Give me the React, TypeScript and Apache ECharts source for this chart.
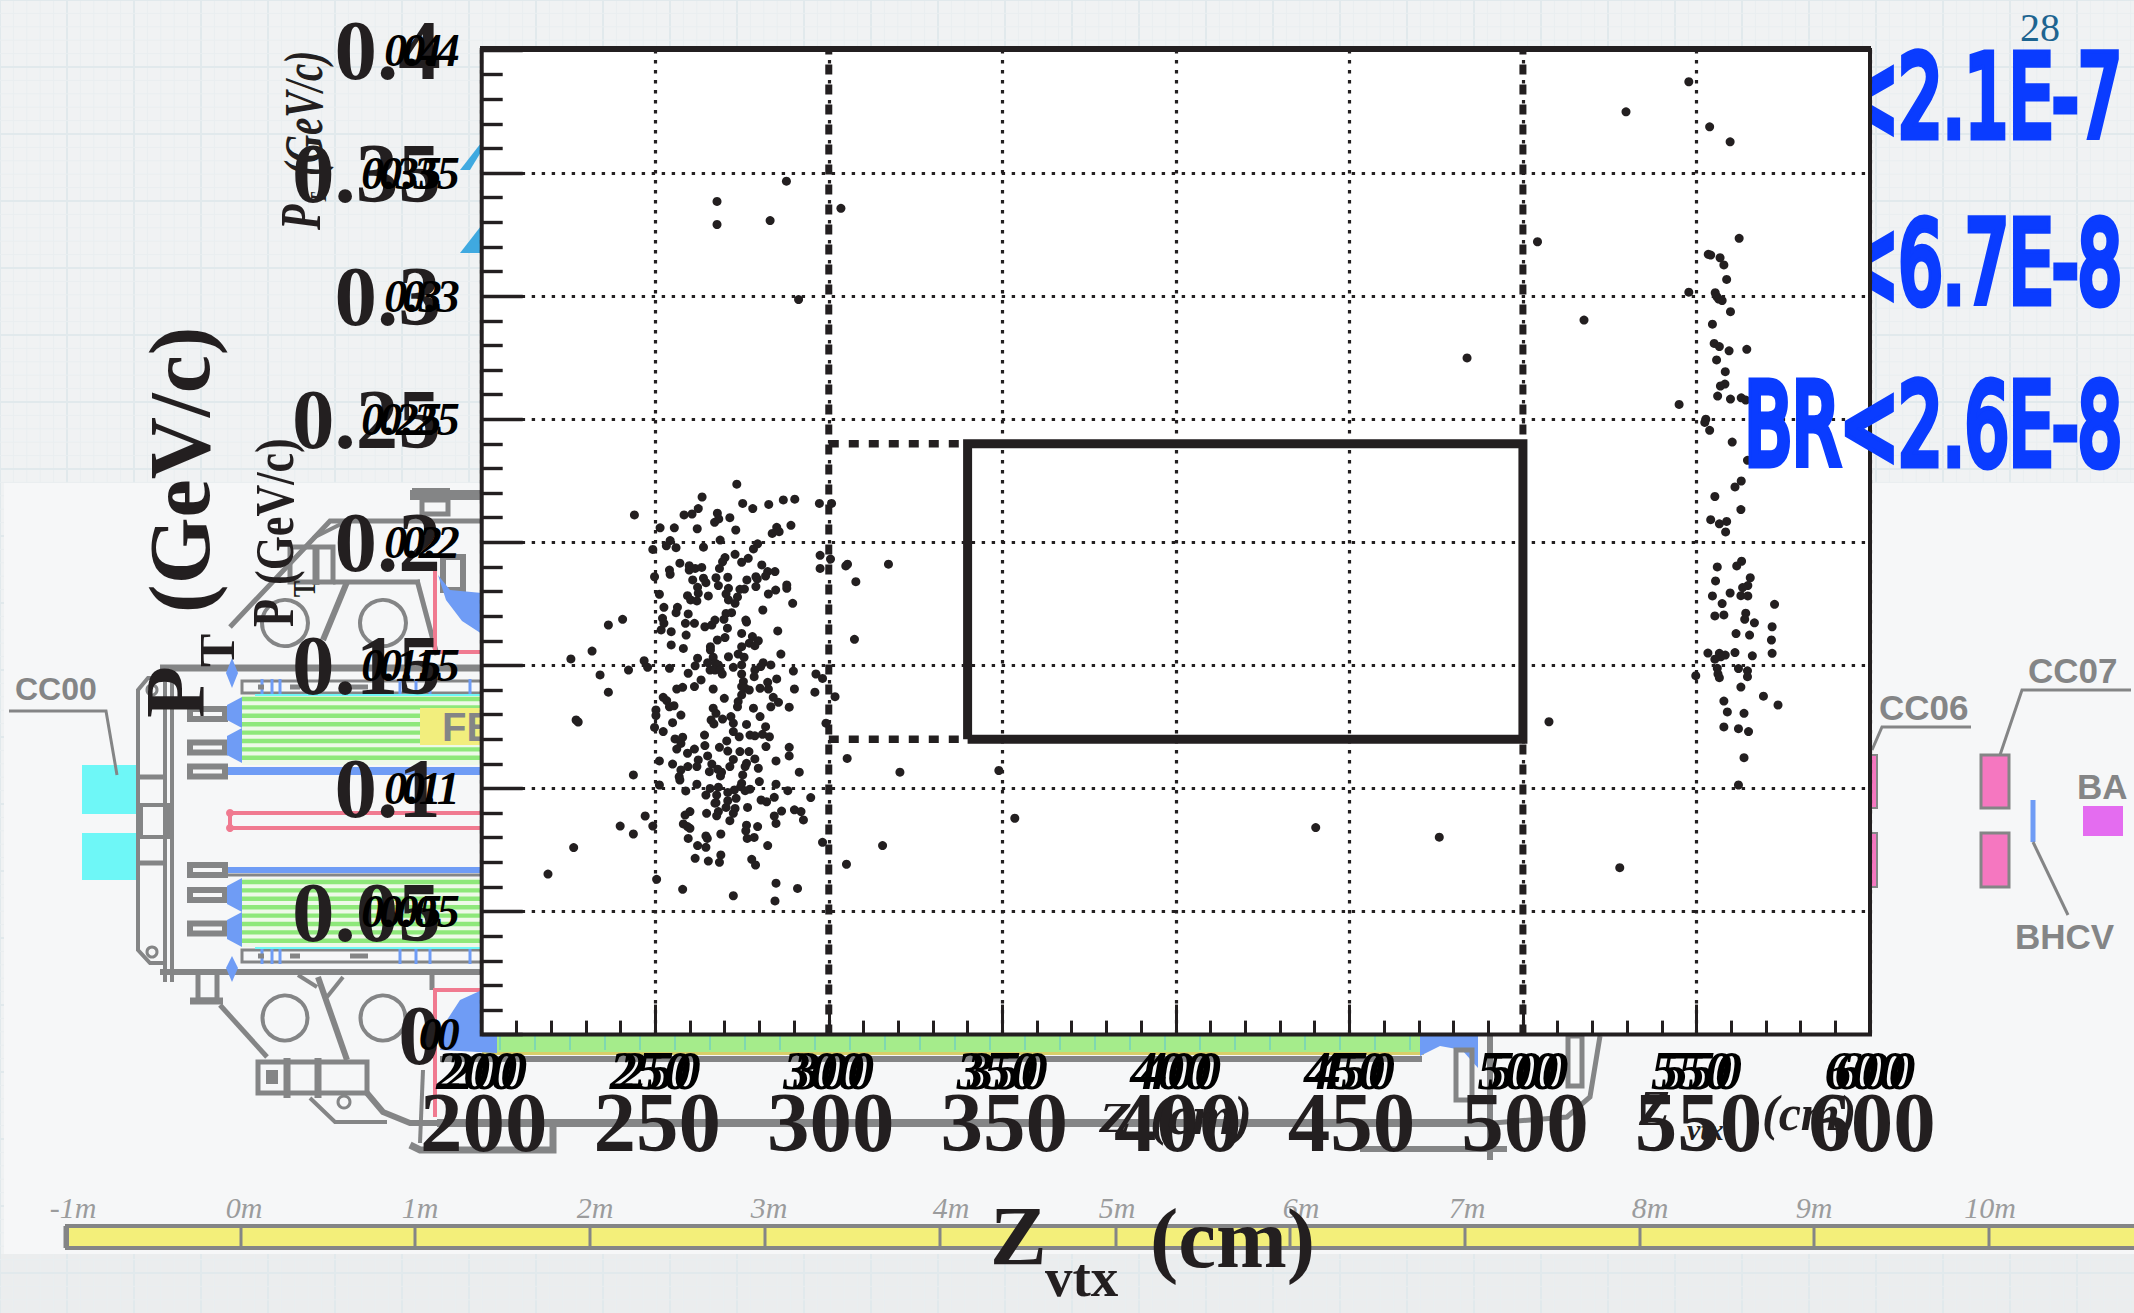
import React, { useEffect, useRef } from "react";
import * as echarts from "echarts";

// ---------- data (Zvtx in cm, PT in GeV/c) ----------
const zTicksMin = 200, zTicksMax = 600, zStep = 50;
const ptMin = 0, ptMax = 0.4, ptStep = 0.05;

const cutLineLeft = [[300, 0], [300, 0.4]];
const cutLineRight = [[500, 0], [500, 0.4]];
const signalBox = [[340, 0.12], [500, 0.12], [500, 0.24], [340, 0.24], [340, 0.12]];
const dashedUpper = [[300, 0.24], [340, 0.24]];
const dashedLower = [[300, 0.12], [340, 0.12]];

const isolatedPoints = [
  [267.8,.3385],[267.8,.3291],[283.1,.3307],[287.8,.3467],[303.5,.3357],[291.3,.2986],
  [349,.1073],[353.6,.0879],[440.3,.0841],[475.9,.0802],[483.9,.2749],[504.2,.3221],[517.6,.2903],
  [529.7,.3749],[507.5,.1271],[527.9,.0678],[547.8,.3871],[545,.2560],[547.8,.3016],
  [225.7,.1526],[231.8,.1558],[227.2,.1278],[227.8,.1270],[226.5,.0760],[219.1,.0652],
];
const rightBandPoints = [
  [553.8,.3688],[559.7,.3627],[562.3,.3235],[553.4,.3170],[554.1,.3167],[556.8,.3156],[557.9,.3127],[558.7,.3068],
  [555.4,.3014],[555.9,.2998],[556.4,.2988],[557.4,.2982],[559.8,.2937],[554.6,.2886],[555.1,.2808],[556.6,.2795],
  [559.4,.2778],[564.5,.2784],[555.8,.2741],[558.3,.2693],[558.2,.2643],[556.9,.2635],[556.1,.2594],[559.8,.2582],
  [562.9,.2587],[564.2,.2578],[552.7,.2500],[552.4,.2487],[553.8,.2455],[560.3,.2407],[564.7,.2333],[562.9,.2249],
  [561.1,.2225],[555.3,.2186],[562.8,.2133],[554.1,.2092],[556.6,.2075],[558.7,.2085],[558.4,.2042],[563,.1923],
  [561.6,.1904],[556,.1900],[555.5,.1843],[565.5,.1856],[564.8,.1824],[563.3,.1816],[559.7,.1794],[554.6,.1782],
  [562.8,.1783],[564.8,.1782],[557.4,.1751],[572.5,.1748],[564.2,.1712],[555.3,.1701],[557.9,.1705],[563.9,.1687],
  [566.7,.1673],[571.8,.1657],[561.4,.1629],[565.3,.1623],[571.6,.1603],[553.3,.1550],[556.6,.1549],[558.3,.1542],
  [557,.1535],[555.3,.1525],[561.1,.1552],[571.8,.1549],[566.1,.1539],[556,.1488],[562.1,.1487],[564.7,.1478],
  [556.2,.1465],[549.8,.1458],[556.6,.1450],[564.7,.1454],[562.8,.1412],[569.3,.1375],[573.5,.1339],[557.9,.1355],
  [558.9,.1311],[563.7,.1305],[557.9,.1250],[562.1,.1243],[565,.1231],[563.7,.1125],[562.1,.1014],
];
const leftUpperPoints = [
  [273.5,.2236],[263.5,.2184],[275.2,.2158],[278.1,.2137],[282.7,.2154],[286.9,.2172],[290.2,.2175],[297.3,.2158],[300.8,.2158],
  [244.0,.2111],[258.3,.2111],[260.6,.2115],[262.4,.2137],[267.9,.2118],[271.5,.2100],[267.1,.2081],[268.3,.2095],
  [251.4,.2059],[255.5,.2059],[262.1,.2055],[273.2,.2050],[285.0,.2061],[283.7,.2036],[285.7,.2043],[289.1,.2069],
  [254.3,.2007],[253.2,.1986],[256.0,.1978],[268.7,.2009],[263.9,.1980],[279.5,.1994],[278.3,.1973],[249.3,.1971],
  [273.0,.1951],[297.5,.1947],[300.5,.1932],[270.1,.1938],[269.4,.1921],[276.8,.1935],[274.9,.1919],[257.1,.1915],
  [280.7,.1908],[259.8,.1905],[259.8,.1887],[261.5,.1894],[263.4,.1898],[268.5,.1894],[304.9,.1904],[305.4,.1911],[317.2,.1911],[297.5,.1894],
  [254.1,.1887],[254.3,.1870],[249.8,.1860],[284.5,.1881],[282.4,.1881],[281.8,.1863],[279.0,.1860],[279.4,.1851],[267.5,.1856],[270.9,.1858],
  [260.8,.1847],[263.9,.1854],[264.6,.1836],[276.4,.1847],[307.8,.1840],
  [268.2,.1824],[262.2,.1817],[271.1,.1813],[279.0,.1820],[287.9,.1827],[287.9,.1813],[274.4,.1809],[275.7,.1810],[284.7,.1806],[282.6,.1790],
  [262.4,.1793],[251.2,.1789],[259.3,.1783],[260.2,.1766],[262.0,.1762],[265.3,.1782],[270.4,.1790],[271.1,.1766],[273.7,.1778],[273.0,.1752],[289.6,.1752],
  [252.5,.1736],[256.4,.1736],[256.0,.1714],[281.0,.1725],[259.5,.1709],[270.4,.1711],[272.0,.1714],[269.8,.1687],[252.1,.1691],[252.5,.1671],
  [258.7,.1671],[261.3,.1671],[264.3,.1657],[266.3,.1664],[267.2,.1684],[276.1,.1684],[276.3,.1676],[270.8,.1651],[251.7,.1644],[254.6,.1637],
  [285.3,.1640],[258.9,.1623],[274.9,.1630],[240.6,.1687],[236.5,.1664],
];
const leftMiddlePoints = [
  [278.0,.1617],[267.9,.1603],[270.1,.1613],[279.7,.1600],[277.1,.1590],[278.7,.1580],[274.9,.1576],[254.6,.1583],[258.1,.1569],[265.9,.1576],
  [265.9,.1562],[286.2,.1546],[273.9,.1546],[271.1,.1535],[275.6,.1533],[262.2,.1529],[266.7,.1533],[307.4,.1606],
  [246.8,.1519],[247.8,.1492],[242.3,.1481],[254.1,.1488],[261.5,.1498],[265.1,.1511],[267.4,.1508],[268.2,.1502],[265.8,.1481],[267.2,.1481],
  [268.7,.1481],[269.3,.1465],[272.5,.1492],[274.9,.1502],[274.9,.1465],[281.1,.1511],[280.4,.1495],[283.3,.1502],[278.7,.1481],[278.5,.1454],
  [259.5,.1468],[289.8,.1477],[296.3,.1465],[298.2,.1447],[234.1,.1461],
  [263.2,.1441],[275.4,.1434],[282.4,.1431],[285.0,.1445],[261.3,.1414],[257.9,.1411],[256.2,.1404],[266.7,.1404],[274.9,.1414],[275.9,.1407],
  [277.1,.1400],[280.2,.1407],[282.6,.1404],[290.1,.1404],[296.0,.1391],[236.5,.1391],[301.8,.1373],[274.9,.1380],[269.9,.1366],[252.3,.1370],
  [253.3,.1357],[273.9,.1353],[273.7,.1332],[284.0,.1370],[285.5,.1350],[283.3,.1332],[288.6,.1330],[254.1,.1332],[255.4,.1336],[250.2,.1319],
  [266.7,.1326],[267.5,.1305],[278.3,.1326],
  [250.2,.1296],[257.4,.1298],[271.8,.1292],[280.2,.1292],[266.1,.1278],[266.9,.1262],[269.4,.1282],[272.5,.1265],[255.0,.1267],[276.3,.1260],
  [249.8,.1248],[252.3,.1231],[281.8,.1251],[299.2,.1265],[272.5,.1231],[274.2,.1210],[264.2,.1217],[277.3,.1217],[278.7,.1214],[280.9,.1220],
  [282.9,.1210],[255.7,.1201],[257.9,.1208],[257.4,.1183],[270.6,.1193],[256.2,.1160],[264.3,.1174],[268.5,.1167],[261.3,.1160],[281.9,.1170],[288.6,.1167],
];
const leftLowerPoints = [
  [259.3,.1143],[270.9,.1152],[274.4,.1150],[277.0,.1150],[265.1,.1132],[288.6,.1132],[305.3,.1122],[272.5,.1118],[262.4,.1116],[251.2,.1112],
  [255.0,.1099],[284.8,.1112],[278.7,.1120],[276.3,.1102],[266.3,.1099],[259.4,.1089],[262.0,.1089],[271.5,.1089],[275.9,.1089],[279.7,.1082],
  [257.4,.1075],[268.0,.1078],[265.6,.1068],[291.5,.1066],[269.1,.1066],[268.8,.1051],[243.7,.1055],[275.2,.1055],[256.9,.1048],[257.1,.1034],[320.5,.1066],
  [280.0,.1028],[262.0,.1017],[251.2,.1014],[274.9,.1021],[284.8,.1017],[274.6,.1007],[265.8,.1000],[268.2,.1005],[258.8,.0990],[277.3,.0997],
  [288.2,.0991],[272.8,.0994],[270.9,.0984],[275.9,.0991],[264.6,.0973],[267.7,.0973],[294.8,.0963],[284.3,.0964],[273.3,.0960],[267.5,.0942],
  [270.9,.0950],[280.5,.0953],[282.1,.0946],[267.2,.0940],[270.4,.0923],[276.6,.0923],[260.0,.0906],[264.8,.0899],[268.2,.0906],[273.0,.0919],
  [272.5,.0899],[290.1,.0913],[292.0,.0906],[286.4,.0908],[258.6,.0892],[267.7,.0889],[247.1,.0888],[284.3,.0888],[292.7,.0872],[271.5,.0869],
  [239.9,.0847],[249.3,.0847],[258.1,.0856],[259.3,.0845],[260.0,.0838],[276.3,.0851],[279.5,.0845],[284.8,.0858],[276.1,.0828],[243.7,.0815],
  [268.9,.0815],[264.6,.0807],[265.0,.0797],[259.5,.0797],[276.5,.0797],[278.5,.0801],[298.2,.0781],[262.2,.0768],[264.6,.0761],[282.4,.0768],[315.5,.0768],
  [261.5,.0716],[268.9,.0730],[265.3,.0705],[268.5,.0700],[277.8,.0712],[278.9,.0689],[305.1,.0692],[250.4,.0631],[284.8,.0615],[257.9,.0590],
  [291.0,.0594],[272.5,.0564],[284.5,.0543],
];
const rulerLabels = ["-1m","0m","1m","2m","3m","4m","5m","6m","7m","8m","9m","10m"];
const rulerLabelCenters = [73,244,420,595,769,951,1117,1301,1467,1650,1814,1990];
const rulerDividers = [65,241,415,590,765,940,1116,1290,1465,1640,1814,1989];

// ---------- styles ----------
const INK = "#231f20";
const SERIF = '"Liberation Serif"';
const GRAY = "#848586";
const BLUE = "#6f9cf5";
const PINK = "#f07a90";
const CYAN = "#6ef7f7";
const HAND = "#0a3cff";

const B = -1, F = 50;
const rect = (x, y, w, h, fill, stroke?, lw?, z = B) => ({ type: "rect", z, silent: true, shape: { x, y, width: w, height: h }, style: { fill, stroke: stroke || "none", lineWidth: lw || 0 } });
const line = (pts, stroke = GRAY, lw = 4, z = B) => ({ type: "polyline", z, silent: true, shape: { points: pts }, style: { stroke, lineWidth: lw, fill: "none" } });
const poly = (pts, fill, z = B) => ({ type: "polygon", z, silent: true, shape: { points: pts }, style: { fill } });
const circ = (cx, cy, r, stroke = GRAY, lw = 4, z = B) => ({ type: "circle", z, silent: true, shape: { cx, cy, r }, style: { stroke, lineWidth: lw, fill: "none" } });
const txt = (text, x, y, font, fill, opts: any = {}) => ({
  type: "text", z: opts.z ?? F, silent: true, x, y, rotation: opts.rot || 0, scaleX: opts.sx || 1, scaleY: opts.sy || 1,
  style: { text, font, fill, align: opts.align || "left", verticalAlign: opts.va || "middle", stroke: opts.stroke, lineWidth: opts.lw, lineJoin: "round", lineCap: "round" },
});

function paperBackground() {
  const out: any[] = [rect(0, 0, 2134, 1313, "#f0f2f3"), rect(0, 1254, 2134, 59, "#ebedee")];
  for (let x = 0; x < 2134; x += 13.4) {
    const major = Math.round(x / 13.4) % 5 === 0;
    out.push(line([[x, 0], [x, 1313]], major ? "#e1e9ec" : "#e9eef0", major ? 2 : 1));
  }
  for (let y = 0; y < 1313; y += 13.4) {
    const major = Math.round(y / 13.4) % 5 === 0;
    out.push(line([[0, y], [2134, y]], major ? "#e1e9ec" : "#e9eef0", major ? 2 : 1));
  }
  return out;
}

function greenStripes(y0, y1) {
  const out: any[] = [rect(242, y0, 240, y1 - y0, "#eef9e8")];
  for (let y = y0 + 4; y < y1; y += 8.4) out.push(line([[242, y], [482, y]], "#8ee87a", 4.4));
  return out;
}

function rail(y) {
  const out: any[] = [rect(242, y, 240, 12, "none", GRAY, 3)];
  [[262, 272, 280], [400, 416, 430, 470]].forEach((xs) => xs.forEach((x) => out.push(line([[x, y - 2], [x, y + 14]], BLUE, 3))));
  out.push(line([[255, y + (y < 800 ? 14 : -2)], [480, y + (y < 800 ? 14 : -2)]], CYAN, 2));
  [[258, 264], [290, 300], [350, 368]].forEach(([a, b]) => out.push(line([[a, y + 6], [b, y + 6]], GRAY, 5)));
  return out;
}

function detector() {
  const out: any[] = [rect(4, 483, 2130, 771, "#f6f7f8")];
  // cyan blocks and CC00
  out.push(rect(82, 765, 55, 49, CYAN), rect(82, 833, 55, 47, CYAN));
  out.push(txt("CC00", 15, 689, 'bold 32px "Liberation Sans"', GRAY, { z: B }));
  out.push(line([[9, 711], [106, 711], [117, 775]], GRAY, 3));
  // main vessel
  out.push(line([[165, 678], [148, 678], [138, 690], [138, 950], [150, 963], [165, 963]], GRAY, 4));
  out.push(line([[165, 669], [165, 982]], GRAY, 4), line([[172, 669], [172, 982]], GRAY, 4));
  out.push(line([[160, 668], [482, 668]], GRAY, 7), line([[160, 972], [482, 972]], GRAY, 6));
  out.push(line([[138, 777], [165, 777]], GRAY, 5), line([[138, 863], [165, 863]], GRAY, 5), rect(141, 805, 28, 32, "none", GRAY, 4));
  out.push(circ(152, 690, 5, GRAY, 3), circ(152, 952, 5, GRAY, 3));
  // green straw stacks
  out.push(...greenStripes(695, 765), ...greenStripes(878, 947));
  out.push(...rail(681), ...rail(950));
  out.push(rect(227, 767, 255, 8, BLUE), rect(227, 867, 255, 6, BLUE), line([[227, 875], [482, 875]], GRAY, 3));
  out.push(line([[482, 813], [230, 813], [230, 828], [482, 828]], PINK, 4));
  out.push(circ(230, 813, 2.5, PINK, 3), circ(230, 828, 2.5, PINK, 3));
  out.push(rect(420, 708, 62, 37, "#f2ee7d"));
  out.push(txt("FE", 442, 727, 'bold 40px "Liberation Sans"', GRAY, { z: B }));
  [714, 747.5, 771.5, 870, 895, 928.5].forEach((y) => out.push(rect(190, y - 5, 35, 10, "#f6f7f8", GRAY, 6)));
  [[697, 728], [728, 763], [878, 912], [912, 947]].forEach(([a, b]) => out.push(poly([[242, a], [242, b], [227, b - 8], [227, a + 8]], BLUE)));
  out.push(poly([[232, 658], [238, 673], [232, 688], [226, 673]], BLUE), poly([[232, 956], [238, 968], [232, 982], [226, 968]], BLUE));
  // upper hardware
  out.push(line([[410, 495], [482, 495]], GRAY, 10), rect(422, 500, 26, 14, "none", GRAY, 5), rect(412, 488, 38, 8, GRAY));
  out.push(line([[230, 627], [330, 521], [482, 521]], GRAY, 5), line([[313, 538], [347, 521]], GRAY, 4));
  out.push(rect(290, 547, 43, 35, "none", GRAY, 5), line([[316, 545], [316, 585]], GRAY, 7));
  out.push(line([[347, 582], [323, 640]], GRAY, 6), line([[417, 580], [437, 655]], GRAY, 5), line([[333, 582], [420, 582]], GRAY, 5));
  out.push(rect(443, 557, 20, 33, "none", GRAY, 6));
  out.push(circ(285, 623, 23), circ(383, 623, 23));
  out.push(poly([[438, 575], [450, 590], [482, 593], [482, 634], [462, 621], [446, 600]], BLUE));
  out.push(line([[435, 570], [435, 652], [482, 652]], PINK, 4));
  // lower hardware
  out.push(circ(285, 1018, 22.5), circ(383, 1018, 22.5));
  out.push(rect(198, 972, 19, 28, "none", GRAY, 5), line([[190, 1001], [223, 1001]], GRAY, 7));
  out.push(line([[220, 1005], [267, 1057]], GRAY, 5), line([[318, 977], [347, 1060]], GRAY, 6), line([[298, 975], [317, 987]], GRAY, 4), line([[343, 977], [327, 997]], GRAY, 4));
  out.push(rect(258, 1062, 109, 31, "none", GRAY, 5), line([[287, 1058], [287, 1098]], GRAY, 7), line([[318, 1058], [318, 1098]], GRAY, 7), rect(266, 1070, 12, 14, GRAY));
  out.push(line([[310, 1098], [335, 1122], [387, 1122]], GRAY, 4), circ(344, 1102, 6, GRAY, 3));
  out.push(line([[367, 1093], [383, 1112], [410, 1123], [437, 1123]], GRAY, 6));
  out.push(line([[432, 973], [432, 990]], GRAY, 5), line([[482, 990], [435, 990], [435, 1117]], PINK, 4), line([[423, 1070], [420, 1143]], GRAY, 4));
  out.push(line([[437, 1123], [1493, 1123]], GRAY, 8), line([[410, 1145], [420, 1150], [553, 1150], [553, 1125]], GRAY, 7), line([[1360, 1149], [1507, 1149]], GRAY, 6));
  out.push(rect(482, 1036, 942, 16, "#a5ec8b"), rect(482, 1052, 942, 3, "#d8cf6a"), rect(440, 1056, 982, 6, GRAY));
  for (let x = 500; x < 1420; x += 35) out.push(line([[x, 1036], [x, 1050]], "#7fd8b0", 2));
  out.push(poly([[482, 990], [460, 1000], [447, 1020], [440, 1050], [497, 1053], [497, 1036], [482, 1036]], BLUE));
  out.push(poly([[1420, 1036], [1478, 1036], [1478, 1068], [1462, 1050], [1440, 1046], [1420, 1056]], BLUE));
  out.push(rect(1456, 1050, 16, 50, "none", GRAY, 5), line([[1490, 1036], [1490, 1160]], GRAY, 6));
  out.push(line([[1600, 1036], [1590, 1097], [1567, 1117], [1493, 1123]], GRAY, 5), rect(1568, 1036, 14, 50, "none", GRAY, 5));
  // right stations
  out.push(line([[1872, 750], [1882, 727], [1971, 727]], GRAY, 3), line([[2000, 755], [2022, 690], [2131, 690]], GRAY, 3));
  out.push(rect(1868, 755, 9, 53, "#f577c0", GRAY, 2), rect(1868, 833, 9, 54, "#f577c0", GRAY, 2));
  out.push(rect(1981, 755, 28, 53, "#f577c0", GRAY, 3), rect(1981, 833, 28, 54, "#f577c0", GRAY, 3));
  out.push(rect(2083, 806, 40, 30, "#e46cf0"), line([[2033, 800], [2033, 842]], BLUE, 5), line([[2033, 842], [2068, 915]], GRAY, 3));
  out.push(txt("CC06", 1879, 707, 'bold 35px "Liberation Sans"', GRAY, { z: B }), txt("CC07", 2028, 670, 'bold 35px "Liberation Sans"', GRAY, { z: B }));
  out.push(txt("BA", 2077, 786, 'bold 35px "Liberation Sans"', GRAY, { z: B }), txt("BHCV", 2015, 936, 'bold 35px "Liberation Sans"', GRAY, { z: B }));
  // ruler
  out.push(rect(67, 1226, 2070, 22, "#f3ef7a", GRAY, 4));
  rulerDividers.forEach((x) => out.push(line([[x, 1226], [x, 1248]], GRAY, 3)));
  rulerLabels.forEach((t, i) => out.push(txt(t, rulerLabelCenters[i], 1207, `italic 30px ${SERIF}`, "#9b9c9d", { z: B, align: "center" })));
  return out;
}

const handFont = '112px "DejaVu Sans"';
function behindPlot() {
  const opts = { z: B, align: "right", sx: 0.62, stroke: HAND, lw: 9 };
  return [
    ...paperBackground(),
    ...detector(),
    poly([[460, 253], [481, 253], [481, 226]], "#3fa9e0"),
    poly([[460, 170], [481, 143], [481, 152], [470, 170]], "#3fa9e0"),
    txt("BR<2.1E-7", 2122, 98, handFont, HAND, opts),
    txt("BR<6.7E-8", 2122, 264, handFont, HAND, opts),
    txt("28", 2040, 27, `40px ${SERIF}`, "#1d6490", { z: B, align: "center" }),
  ];
}

function overlays() {
  const big = `bold 85px ${SERIF}`;
  const R = Math.PI / 2;
  return [
    line([[480, 49], [1871, 49]], INK, 6, F),
    // big horizontal title
    txt("Z", 990, 1236, big, INK),
    txt("vtx", 1045, 1277, `bold 55px ${SERIF}`, INK),
    txt("(cm)", 1150, 1238, big, INK),
    // italic titles
    txt("Z", 1099, 1117, `italic bold 54px ${SERIF}`, INK, { sy: 0.8 }),
    txt("(cm)", 1150, 1116, `italic bold 54px ${SERIF}`, INK),
    txt("Z", 1639, 1108, `italic bold 50px ${SERIF}`, INK),
    txt("vtx", 1687, 1129, `italic bold 30px ${SERIF}`, INK),
    txt("(cm)", 1762, 1113, `italic bold 50px ${SERIF}`, INK),
    // big rotated title
    txt("P", 175, 718, big, INK, { rot: R }),
    txt("T", 217, 667, `bold 50px ${SERIF}`, INK, { rot: R }),
    txt("(GeV/c)", 180, 613, `bold 86px ${SERIF}`, INK, { rot: R }),
    // medium rotated title
    txt("P", 273, 627, `bold 46px ${SERIF}`, INK, { rot: R, sy: 1.3 }),
    txt("T", 304, 597, `bold 24px ${SERIF}`, INK, { rot: R, sy: 1.3 }),
    txt("(GeV/c)", 275, 585, `bold 44px ${SERIF}`, INK, { rot: R, sy: 1.25 }),
    // italic rotated title
    txt("P", 300, 230, `italic bold 58px ${SERIF}`, INK, { rot: R, sx: 0.72 }),
    txt("T", 318, 203, `italic bold 24px ${SERIF}`, INK, { rot: R, sx: 0.72 }),
    txt("(GeV/c)", 304, 176, `italic bold 54px ${SERIF}`, INK, { rot: R, sx: 0.72 }),
    // handwritten row on top of the plot
    txt("BR<2.6E-8", 2122, 426, handFont, HAND, { z: 60, align: "right", sx: 0.62, stroke: HAND, lw: 9 }),
  ];
}

const axisBase = { type: "value", min: zTicksMin, max: zTicksMax, interval: zStep, position: "bottom", gridIndex: 0 };
const yBase = { type: "value", min: ptMin, max: ptMax, interval: ptStep, position: "left", gridIndex: 0 };
const hidden = { axisLine: { show: false }, axisTick: { show: false }, splitLine: { show: false }, minorTick: { show: false } };

const dots = (name, data) => ({
  name, type: "scatter", data, symbol: "circle", symbolSize: 9, z: 5, clip: false,
  itemStyle: { color: INK, opacity: 1 },
});
const stroke = (name, data, width, type, z = 4) => ({
  name, type: "line", data, symbol: "none", z, clip: false, animation: false,
  lineStyle: { color: INK, width, type, cap: "butt", join: "miter" },
});

export default function App() {
  const ref = useRef<HTMLDivElement>(null);
  useEffect(() => {
    const chart = echarts.init(ref.current!, null, { renderer: "svg" });
    chart.setOption({
      animation: false,
      backgroundColor: "transparent",
      grid: { left: 481.7, top: 50, width: 1388.3, height: 984.6, show: true, backgroundColor: "#ffffff", borderColor: INK, borderWidth: 4 },
      xAxis: [
        {
          ...axisBase,
          axisLine: { show: false },
          axisTick: { show: true, inside: true, length: 30, lineStyle: { color: INK, width: 3 } },
          minorTick: { show: true, splitNumber: 5, length: 14, lineStyle: { color: INK, width: 3 } },
          splitLine: { show: true, lineStyle: { color: INK, width: 3.2, type: [3.4, 6.6] } },
          axisLabel: { margin: 45, fontFamily: SERIF, fontWeight: "bold", fontSize: 85, color: INK, padding: [0, 0, 0, 4] },
        },
        { ...axisBase, ...hidden, axisLabel: { margin: 9, fontFamily: SERIF, fontWeight: "bold", fontStyle: "italic", fontSize: 54, color: "#000", padding: [0, 10, 0, 0] } },
        { ...axisBase, ...hidden, axisLabel: { margin: 9, fontFamily: SERIF, fontWeight: "bold", fontStyle: "italic", fontSize: 54, color: "#000", padding: [0, 0, 0, 10] } },
      ],
      yAxis: [
        {
          ...yBase,
          axisLine: { show: false },
          axisTick: { show: true, inside: true, length: 41, lineStyle: { color: INK, width: 3.4 } },
          minorTick: { show: true, splitNumber: 5, length: 21, lineStyle: { color: INK, width: 3.4 } },
          splitLine: { show: true, lineStyle: { color: INK, width: 3.2, type: [3.4, 6.6] } },
          axisLabel: { margin: 41, fontFamily: SERIF, fontWeight: "bold", fontSize: 85, color: INK },
        },
        { ...yBase, ...hidden, axisLabel: { margin: 22, fontFamily: SERIF, fontWeight: "bold", fontStyle: "italic", fontSize: 46, color: "#000", padding: [0, 0, 18, 0] } },
        { ...yBase, ...hidden, axisLabel: { margin: 40, fontFamily: SERIF, fontWeight: "bold", fontStyle: "italic", fontSize: 46, color: "#000", padding: [0, 0, 18, 0] } },
      ],
      series: [
        stroke("Cut z=300", cutLineLeft, 7, [10, 10]),
        stroke("Cut z=500", cutLineRight, 7, [10, 10]),
        stroke("Signal box", signalBox, 9, "solid", 4.5),
        stroke("Dashed upper", dashedUpper, 7.5, [10, 10]),
        stroke("Dashed lower", dashedLower, 7.5, [10, 10]),
        dots("Left cluster upper", leftUpperPoints),
        dots("Left cluster middle", leftMiddlePoints),
        dots("Left cluster lower", leftLowerPoints),
        dots("Right band", rightBandPoints),
        dots("Isolated", isolatedPoints),
      ],
      graphic: { elements: [...behindPlot(), ...overlays()] },
    });
    return () => chart.dispose();
  }, []);
  return <div ref={ref} style={{ position: "fixed", left: 0, top: 0, width: 2134, height: 1313, overflow: "hidden", background: "#f0f2f3" }} />;
}
